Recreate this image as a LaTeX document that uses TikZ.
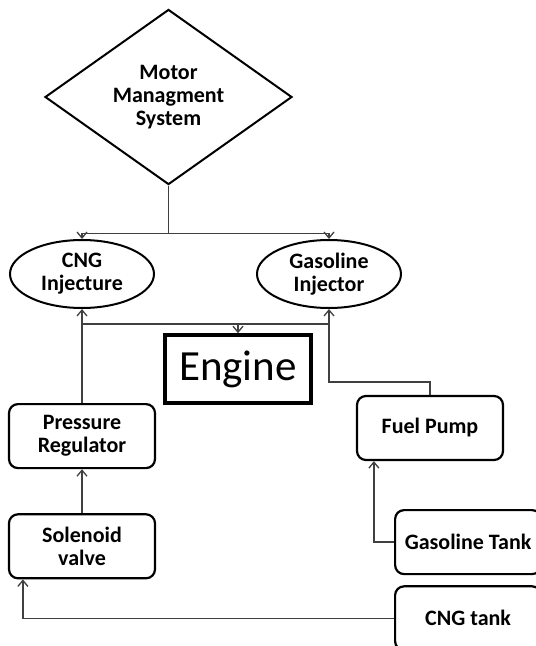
\documentclass[tikz,border=0pt]{standalone}
\usepackage{fontspec}
\setmainfont{Carlito}
\usepackage{tikz}
\usetikzlibrary{arrows.meta,positioning,shapes.geometric,calc}

\begin{document}
\begin{tikzpicture}[
  x=1pt, y=1pt, font=\fontsize{22}{23}\selectfont\bfseries,
  d/.style={draw, diamond, line width=2pt, align=center, inner sep=0pt, minimum width=247pt, minimum height=169pt},
  e/.style={draw, ellipse, line width=2pt, align=center, inner sep=1pt, minimum width=144pt, minimum height=68pt},
  u/.style={draw, rounded corners=9pt, line width=2.2pt, align=center, minimum width=146pt, minimum height=64pt},
  eng/.style={draw, line width=3.6pt, minimum width=146pt, minimum height=68pt, font=\fontsize{43}{45}\selectfont},
  ln/.style={draw=black!75, line width=1.3pt},
  pf/.style={ln, -{Straight Barb[length=6pt,width=10pt]}}
]
\useasboundingbox (0,0) rectangle (536,-646);
\node[d] (mms) at (168.5,-97) {Motor\\Managment\\System};
\node[e] (cngi) at (82,-274) {CNG\\Injecture};
\node[e, right=101pt of cngi] (gasi) {Gasoline\\Injector};
\node[eng] (engine) at (238,-369) {Engine};
\node[u, below=94pt of cngi] (preg) {Pressure\\Regulator};
\node[u, below=44pt of preg] (sol) {Solenoid\\valve};
\node[u] (fpump) at (430,-428) {Fuel Pump};
\node[u, anchor=north west] (gtank) at (394,-509) {Gasoline Tank};
\node[u, below=10pt of gtank] (ctank) {CNG tank};

\draw[ln] (mms.south) -- ++(0,-48) coordinate (split);
\draw[pf] (split) -| (cngi.north);
\draw[pf] (split) -| (gasi.north);
\draw[pf] (preg.north) -- (cngi.south);
\coordinate (bus) at ($(cngi.south)+(0,-15)$);
\draw[ln] (bus) -- (bus -| gasi.south);
\draw[pf] (bus -| engine.north) -- (engine.north);
\draw[pf] (fpump.north) -- ++(0,13) -| (gasi.south);
\draw[pf] (sol.north) -- (preg.south);
\draw[pf] (gtank.west) -| ($(fpump.south west)+(18,0)$);
\draw[pf] (ctank.west) -| ($(sol.south west)+(15,0)$);
\end{tikzpicture}
\end{document}
